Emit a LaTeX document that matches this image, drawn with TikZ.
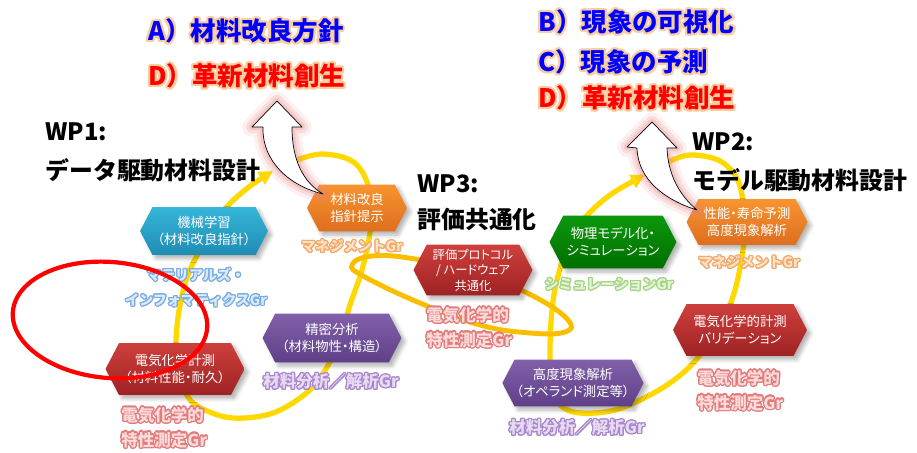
\documentclass[tikz,border=0pt]{standalone}
\usepackage{fontspec}
\setmainfont{Noto Sans CJK JP}
\newfontfamily\hexfont{Noto Sans CJK JP}[RawFeature=+palt]
\usepackage[copies]{contour}
\usetikzlibrary{arrows.meta,positioning,shapes.symbols,shadows.blur}
\contourlength{0.7pt}
\contournumber{16}
\definecolor{HexCyan}{RGB}{54,182,216}
\definecolor{HexCyanDark}{RGB}{30,140,180}
\definecolor{HexOrange}{RGB}{248,148,48}
\definecolor{HexOrangeDark}{RGB}{222,110,30}
\definecolor{HexRed}{RGB}{206,64,60}
\definecolor{HexRedDark}{RGB}{158,34,36}
\definecolor{HexPurple}{RGB}{130,96,170}
\definecolor{HexPurpleDark}{RGB}{94,64,136}
\definecolor{HexGreen}{RGB}{12,152,12}
\definecolor{HexGreenDark}{RGB}{0,110,0}
\definecolor{LoopYellow}{RGB}{255,216,0}
\definecolor{LoopGold}{RGB}{250,190,0}
\definecolor{GoalBlue}{RGB}{0,0,255}
\definecolor{GoalRed}{RGB}{255,0,0}
\definecolor{GoalGlow}{RGB}{250,205,160}
\definecolor{ArrowGlow}{RGB}{232,130,130}
\definecolor{MgmtText}{RGB}{253,226,198}
\definecolor{MgmtGlow}{RGB}{242,168,105}
\definecolor{MiText}{RGB}{218,234,250}
\definecolor{MiGlow}{RGB}{122,172,226}
\definecolor{ElecText}{RGB}{250,218,218}
\definecolor{ElecGlow}{RGB}{226,122,122}
\definecolor{AnalText}{RGB}{232,218,242}
\definecolor{AnalGlow}{RGB}{168,134,204}
\definecolor{SimText}{RGB}{228,244,214}
\definecolor{SimGlow}{RGB}{164,212,132}
\newcommand{\goalglow}[1]{\contourlength{1.2pt}\contour{GoalGlow}{#1}}
\tikzset{
  hexa/.style={signal, signal to=west and east, signal pointer angle=125,
               draw=none, text=white, align=center, inner sep=1pt,
               font=\hexfont\fontsize{7.6}{9.6}\selectfont,
               blur shadow={shadow xshift=2pt, shadow yshift=-2pt,
                            shadow blur steps=6, shadow opacity=30}},
  hexcyan/.style={top color=HexCyan, bottom color=HexCyanDark},
  hexorange/.style={top color=HexOrange, bottom color=HexOrangeDark},
  hexred/.style={top color=HexRed, bottom color=HexRedDark},
  hexpurple/.style={top color=HexPurple, bottom color=HexPurpleDark},
  hexgreen/.style={top color=HexGreen, bottom color=HexGreenDark},
  yloop/.style={draw=LoopYellow, line width=3pt, line cap=round},
  yloopgold/.style={draw=LoopGold, line width=2.8pt},
  bigarrow/.style={fill=white, line join=round,
                   preaction={draw=ArrowGlow, line width=11pt, opacity=0.12, line join=round},
                   preaction={draw=ArrowGlow, line width=7pt, opacity=0.18, line join=round},
                   preaction={draw=ArrowGlow, line width=3.5pt, opacity=0.25, line join=round}},
  redmark/.style={draw=red, line width=2.4pt},
  wptitle/.style={anchor=west, inner sep=0pt, font=\bfseries\fontsize{13.6}{16}\selectfont},
  goal/.style={anchor=west, inner sep=0pt, font=\bfseries\fontsize{14.5}{17}\selectfont},
  grpS/.style={inner sep=0pt, font=\bfseries\fontsize{8}{14.2}\selectfont},
  grpL/.style={inner sep=0pt, font=\bfseries\fontsize{9.4}{14.2}\selectfont},
}

\begin{document}
\begin{tikzpicture}[x=0.02cm, y=-0.02cm]
  \useasboundingbox (0,0) rectangle (917,453);

  % 黄色のループ
  \draw[yloop, -{Triangle[length=8pt,width=8pt]}] plot[smooth, tension=0.6] coordinates {
    (297,160) (322,154) (352,161) (367,182) (371,210) (370,233) (362,270)
    (350,305) (338,345) (320,378) (300,398) (270,414) (233,418) (205,410)
    (188,397) (178,370) (176,340) (180,305) (188,275) (200,250) (220,215)
    (245,190) (273,171)};
  \draw[yloop, -{Triangle[length=8pt,width=8pt]}] plot[smooth, tension=0.6] coordinates {
    (668,162) (690,155) (718,160) (735,175) (742,195) (745,225) (743,250)
    (735,290) (722,322) (700,355) (678,377) (650,395) (615,410) (580,413)
    (560,405) (552,385) (550,350) (552,310) (557,280) (568,245) (583,220)
    (610,195) (645,175)};
  \draw[yloopgold] plot[smooth cycle, tension=0.7] coordinates {
    (352,265) (372,256) (415,259) (480,274) (535,297) (568,320) (565,332)
    (530,333) (480,325) (420,303) (365,277)};

  % WP1
  \node[hexa, hexcyan, minimum width=2.56cm, minimum height=0.96cm] (ml) at (204,231)
    {機械学習\\（材料改良指針）};
  \node[hexa, hexorange, minimum width=2.0cm, minimum height=0.94cm] (kaizen) at (357,208)
    {材料改良\\指針提示};
  \node[hexa, hexred, minimum width=2.78cm, minimum height=1.04cm] (denki) at (175,369)
    {電気化学計測\\（材料性能・耐久）};
  \node[hexa, hexpurple, minimum width=2.78cm, minimum height=0.98cm] (seimitsu) at (332,338)
    {精密分析\\（材料物性・構造）};

  % WP3
  \node[hexa, hexred, minimum width=2.38cm, minimum height=1.02cm,
        font=\hexfont\fontsize{7}{8.8}\selectfont] (hyoka) at (473,270)
    {評価プロトコル\\/ ハードウェア\\共通化};

  % WP2
  \node[hexa, hexgreen, minimum width=2.54cm, minimum height=1.06cm] (butsuri) at (613,242)
    {物理モデル化・\\シミュレーション};
  \node[hexa, hexorange, minimum width=2.42cm, minimum height=0.92cm] (seino) at (747,222)
    {性能・寿命予測\\高度現象解析};
  \node[hexa, hexred, minimum width=2.68cm, minimum height=1.04cm] (sokutei) at (740,330)
    {電気化学的計測\\バリデーション};
  \node[hexa, hexpurple, minimum width=2.80cm, minimum height=0.94cm] (kodo) at (573,383)
    {高度現象解析\\（オペランド測定等）};

  % グループ名
  \node[grpS, text=MgmtText] (mgmtA) at (352,247) {\contour{MgmtGlow}{マネジメントGr}};
  \node[grpS, text=MiText, align=center] (mi) at (196,288)
    {\contour{MiGlow}{マテリアルズ・}\\\contour{MiGlow}{インフォマティクスGr}};
  \node[grpL, text=ElecText, align=left, anchor=west] (elecA) at (121,428)
    {\contour{ElecGlow}{電気化学的}\\\contour{ElecGlow}{特性測定Gr}};
  \node[grpL, text=AnalText] (analA) at (331,382) {\contour{AnalGlow}{材料分析／解析Gr}};
  \node[grpL, text=ElecText, align=left, anchor=west] (elecC) at (426,328)
    {\contour{ElecGlow}{電気化学的}\\\contour{ElecGlow}{特性測定Gr}};
  \node[grpS, text=SimText] (sim) at (609,285) {\contour{SimGlow}{シミュレーションGr}};
  \node[grpS, text=MgmtText] (mgmtB) at (749,263) {\contour{MgmtGlow}{マネジメントGr}};
  \node[grpL, text=ElecText, align=left, anchor=west] (elecB) at (697,391)
    {\contour{ElecGlow}{電気化学的}\\\contour{ElecGlow}{特性測定Gr}};
  \node[grpL, text=AnalText] (analB) at (577,428) {\contour{AnalGlow}{材料分析／解析Gr}};

  % タイトル
  \node[wptitle] (wp1) at (45,132) {WP1:};
  \node[wptitle] (wp1name) at (45,170) {データ駆動材料設計};
  \node[wptitle] (wp3) at (417,184) {WP3:};
  \node[wptitle] (wp3name) at (417,219) {評価共通化};
  \node[wptitle] (wp2) at (692,142) {WP2:};
  \node[wptitle] (wp2name) at (692,180) {モデル駆動材料設計};

  % 目標
  \node[goal, text=GoalBlue] (goalA) at (148,32) {\goalglow{A）材料改良方針}};
  \node[goal, text=GoalRed] (goalD1) at (148,77) {\goalglow{D）革新材料創生}};
  \node[goal, text=GoalBlue] (goalB) at (538,23) {\goalglow{B）現象の可視化}};
  \node[goal, text=GoalBlue] (goalC) at (538,63) {\goalglow{C）現象の予測}};
  \node[goal, text=GoalRed] (goalD2) at (538,99) {\goalglow{D）革新材料創生}};

  % 白い矢印
  \draw[bigarrow] (277,101) -- (302,127) -- (292,127)
    .. controls (292,160) and (303,182) .. (323,194)
    .. controls (290,186) and (262,162) .. (263,127) -- (252,127) -- cycle;
  \draw[bigarrow] (652,122) -- (677,148) -- (667,148)
    .. controls (668,175) and (680,196) .. (697,210)
    .. controls (665,200) and (638,180) .. (637,148) -- (627,147) -- cycle;

  % 赤丸
  \draw[redmark, rotate around={-5:(110,320)}] (110,320) ellipse [x radius=1.95cm, y radius=1.16cm];
\end{tikzpicture}
\end{document}
